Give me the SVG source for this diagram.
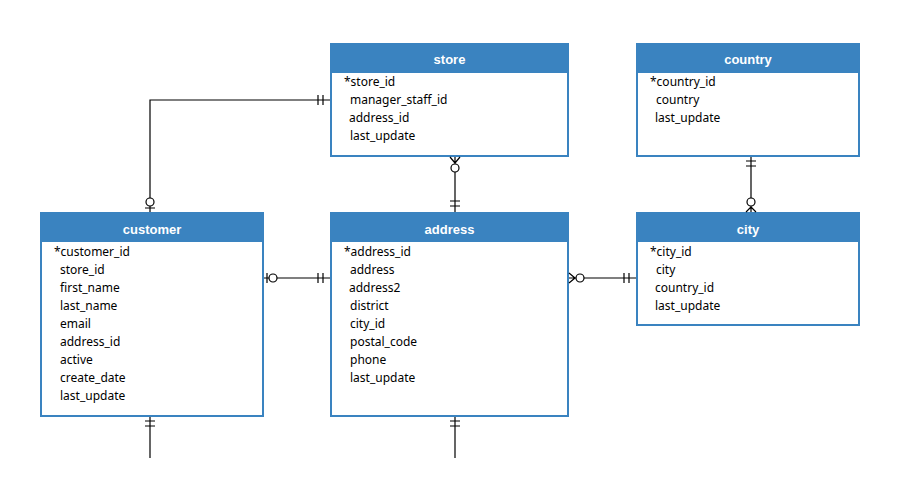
<svg xmlns="http://www.w3.org/2000/svg" width="900" height="500" viewBox="0 0 900 500">
<style>
.box{fill:#fff;stroke:#3a83c0;stroke-width:2}
.hd{fill:#3a83c0;stroke:#3a83c0;stroke-width:2}
.t{font-family:"Noto Sans","Open Sans","DejaVu Sans",sans-serif;font-size:12px;fill:#000}
.h{font-family:"Liberation Sans",Arial,sans-serif;font-size:13px;font-weight:bold;fill:#fff;text-anchor:middle}
.c{stroke:#000;stroke-width:1.2;fill:none}
.o{stroke:#000;stroke-width:1.2;fill:#fff}
</style>
<rect width="900" height="500" fill="#fff"/>
<g id="store"><rect class="box" x="331" y="44" width="237" height="112"/><rect class="hd" x="331" y="44" width="237" height="28"/><text class="h" x="449.5" y="64">store</text>
<text class="t" x="344" y="86">*store_id</text><text class="t" x="350" y="104">manager_staff_id</text><text class="t" x="349" y="122">address_id</text><text class="t" x="350" y="140">last_update</text></g>
<g id="country"><rect class="box" x="637" y="44" width="222" height="112"/><rect class="hd" x="637" y="44" width="222" height="28"/><text class="h" x="748" y="64">country</text>
<text class="t" x="650" y="86">*country_id</text><text class="t" x="656" y="104">country</text><text class="t" x="655" y="122">last_update</text></g>
<g id="customer"><rect class="box" x="41" y="213" width="222" height="203"/><rect class="hd" x="41" y="213" width="222" height="28"/><text class="h" x="152" y="234">customer</text>
<text class="t" x="54" y="256">*customer_id</text><text class="t" x="60" y="274">store_id</text><text class="t" x="60" y="292">first_name</text><text class="t" x="60" y="310">last_name</text><text class="t" x="60" y="328">email</text><text class="t" x="60" y="346">address_id</text><text class="t" x="60" y="364">active</text><text class="t" x="60" y="382">create_date</text><text class="t" x="60" y="400">last_update</text></g>
<g id="address"><rect class="box" x="331" y="213" width="237" height="203"/><rect class="hd" x="331" y="213" width="237" height="28"/><text class="h" x="449.5" y="234">address</text>
<text class="t" x="344" y="256">*address_id</text><text class="t" x="350" y="274">address</text><text class="t" x="349" y="292">address2</text><text class="t" x="350" y="310">district</text><text class="t" x="350" y="328">city_id</text><text class="t" x="350" y="346">postal_code</text><text class="t" x="350" y="364">phone</text><text class="t" x="350" y="382">last_update</text></g>
<g id="city"><rect class="box" x="637" y="213" width="222" height="112"/><rect class="hd" x="637" y="213" width="222" height="28"/><text class="h" x="748" y="234">city</text>
<text class="t" x="650" y="256">*city_id</text><text class="t" x="656" y="274">city</text><text class="t" x="655" y="292">country_id</text><text class="t" x="655" y="310">last_update</text></g>
<g id="connectors">
<path class="c" d="M150 212V100H330M318 95v10M323 95v10M145 208h10"/><circle class="o" cx="150" cy="202" r="4"/>
<path class="c" d="M455 157V212M450 201h10M450 206h10M455 163L450 157M455 163L460 157"/><circle class="o" cx="455" cy="168" r="4"/>
<path class="c" d="M264 278H330M267 273v10M318 273v10M323 273v10"/><circle class="o" cx="273" cy="278" r="4"/>
<path class="c" d="M569 278H636M575 278L569 273M575 278L569 283M624 273v10M629 273v10"/><circle class="o" cx="580" cy="278" r="4"/>
<path class="c" d="M751 157V212M746 161h10M746 166h10M751 207L746 212M751 207L756 212"/><circle class="o" cx="751" cy="202" r="4"/>
<path class="c" d="M150 417V458M145 421h10M145 426h10"/>
<path class="c" d="M455 417V458M450 421h10M450 426h10"/>
</g>
</svg>
